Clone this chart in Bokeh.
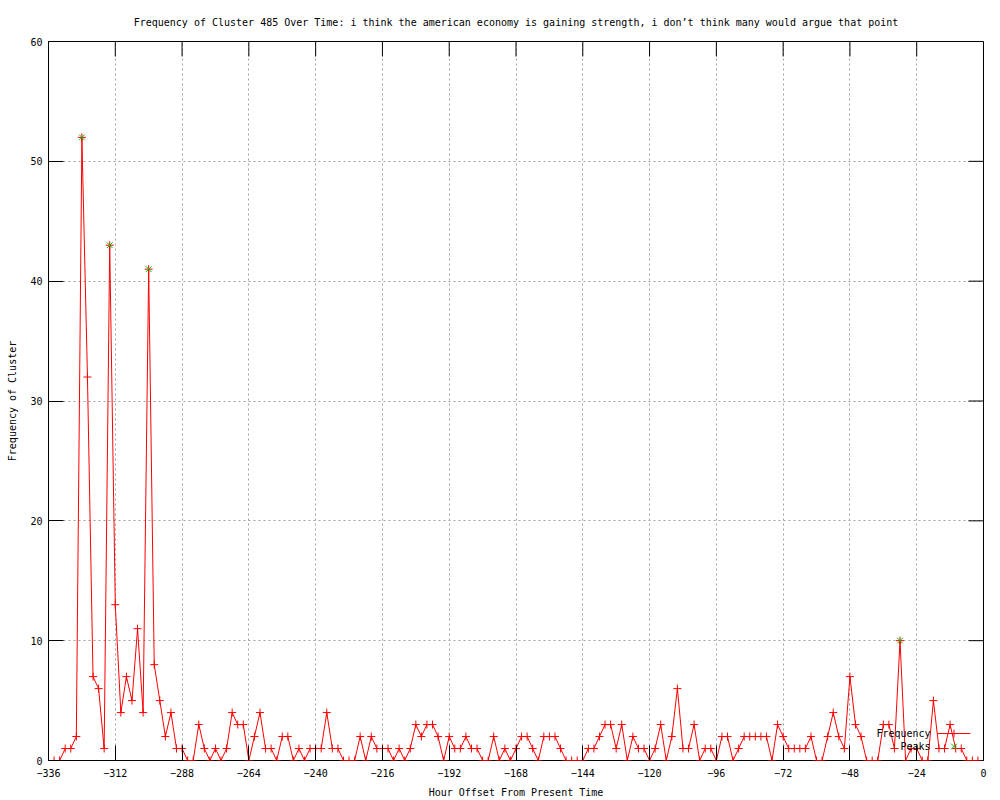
from bokeh.plotting import figure
from bokeh.models import FixedTicker, Range1d, Label, ColumnDataSource
from bokeh.embed import file_html
from bokeh.resources import INLINE

# ---------------- data ----------------
hours = list(range(-336, 0, 2))
frequency = [
    0, 0, 0, 1, 1, 2, 52, 32, 7, 6, 1, 43,      # -336 .. -314
    13, 4, 7, 5, 11, 4, 41, 8, 5, 2, 4, 1,      # -312 .. -290
    1, 0, 0, 3, 1, 0, 1, 0, 1, 4, 3, 3,         # -288 .. -266
    0, 2, 4, 1, 1, 0, 2, 2, 0, 1, 0, 1,         # -264 .. -242
    1, 1, 4, 1, 1, 0, 0, 0, 2, 0, 2, 1,         # -240 .. -218
    1, 1, 0, 1, 0, 1, 3, 2, 3, 3, 2, 0,         # -216 .. -194
    2, 1, 1, 2, 1, 1, 0, 0, 2, 0, 1, 0,         # -192 .. -170
    1, 2, 2, 1, 0, 2, 2, 2, 1, 0, 0, 0,         # -168 .. -146
    0, 1, 1, 2, 3, 3, 1, 3, 0, 2, 1, 1,         # -144 .. -122
    0, 1, 3, 0, 2, 6, 1, 1, 3, 0, 1, 1,         # -120 .. -98
    0, 2, 2, 0, 1, 2, 2, 2, 2, 2, 0, 3,         # -96 .. -74
    2, 1, 1, 1, 1, 2, 0, 0, 2, 4, 2, 1,         # -72 .. -50
    7, 3, 2, 0, 0, 0, 3, 3, 1, 10, 0, 1,        # -48 .. -26
    1, 0, 0, 5, 1, 1, 3, 1, 1, 0, 0, 0,         # -24 .. -2
]
peak_hours = [-324, -314, -300, -30]
peak_values = [52, 43, 41, 10]

x_ticks = list(range(-336, 1, 24))
y_ticks = list(range(0, 61, 10))

title_text = ("Frequency of Cluster 485 Over Time: i think the american economy is "
              "gaining strength, i don\u2019t think many would argue that point")
x_label = "Hour Offset From Present Time"
y_label = "Frequency of Cluster"

# ---------------- style ----------------
FONT = "DejaVu Sans Mono"
FS = "10px"
RED = "#ff0000"
GREEN = "#00c000"
TICK = 15
X0, X1, Y0, Y1 = -336, 0, 0, 60
FRAME_W, FRAME_H = 935, 720

p = figure(width=992, height=800, output_backend="svg", toolbar_location=None,
           x_range=Range1d(X0, X1), y_range=Range1d(Y0, Y1),
           min_border_left=48, min_border_right=9, min_border_top=40,
           min_border_bottom=40, x_axis_label=x_label, y_axis_label=y_label)

p.title.text = title_text
p.title.text_font = FONT
p.title.text_font_size = FS
p.title.text_font_style = "normal"
p.title.text_color = "black"
p.title.align = "center"
p.title.standoff = 28

p.background_fill_color = "white"
p.border_fill_color = "white"
p.outline_line_color = "black"
p.outline_line_width = 1

for ax in p.xaxis:
    ax.ticker = FixedTicker(ticks=x_ticks)
for ax in p.yaxis:
    ax.ticker = FixedTicker(ticks=y_ticks)

for ax in list(p.xaxis) + list(p.yaxis):
    ax.axis_line_color = None
    ax.major_tick_in = TICK
    ax.major_tick_out = 0
    ax.minor_tick_in = 0
    ax.minor_tick_out = 0
    ax.major_tick_line_color = "black"
    ax.major_label_text_font = FONT
    ax.major_label_text_font_size = FS
    ax.major_label_text_color = "black"
    ax.axis_label_text_font = FONT
    ax.axis_label_text_font_size = FS
    ax.axis_label_text_font_style = "normal"
    ax.axis_label_text_color = "black"

p.xaxis.major_label_standoff = 8
p.xaxis.axis_label_standoff = 7
p.yaxis.major_label_standoff = 6
p.yaxis.axis_label_standoff = 9

p.xgrid.ticker = FixedTicker(ticks=x_ticks)
p.ygrid.ticker = FixedTicker(ticks=y_ticks)
for g in (p.xgrid, p.ygrid):
    g.grid_line_color = "#a0a0a0"
    g.grid_line_dash = "2 3"
    g.grid_line_width = 1

# mirrored inward ticks on the top and right border (gnuplot style)
tick_dx = TICK * (X1 - X0) / FRAME_W
tick_dy = TICK * (Y1 - Y0) / FRAME_H
p.segment(x0=x_ticks, x1=x_ticks, y0=[Y1] * len(x_ticks), y1=[Y1 - tick_dy] * len(x_ticks),
          line_color="black", line_width=1)
p.segment(x0=[X1] * len(y_ticks), x1=[X1 - tick_dx] * len(y_ticks), y0=y_ticks, y1=y_ticks,
          line_color="black", line_width=1)

src = ColumnDataSource(dict(h=hours, f=frequency))
p.line("h", "f", source=src, line_color=RED, line_width=1)
p.scatter("h", "f", source=src, marker="cross", size=8, line_color=RED, line_width=1)

psrc = ColumnDataSource(dict(h=peak_hours, f=peak_values))
p.scatter("h", "f", source=psrc, marker="x", size=8, line_color=GREEN, line_width=1)

# ---------------- legend (gnuplot style: text left of sample) ----------------
LEG_TEXT_X = -19.0
LEG_S0, LEG_S1, LEG_SM = -16.5, -4.7, -10.6
LEG_Y1, LEG_Y2 = 2.25, 1.17

p.add_layout(Label(x=LEG_TEXT_X, y=LEG_Y1, text="Frequency", text_align="right",
                   text_baseline="middle", text_font=FONT, text_font_size=FS,
                   text_color="black"))
p.add_layout(Label(x=LEG_TEXT_X, y=LEG_Y2, text="Peaks", text_align="right",
                   text_baseline="middle", text_font=FONT, text_font_size=FS,
                   text_color="black"))
p.line(x=[LEG_S0, LEG_S1], y=[LEG_Y1, LEG_Y1], line_color=RED, line_width=1)
p.scatter(x=[LEG_SM], y=[LEG_Y1], marker="cross", size=8, line_color=RED, line_width=1)
p.scatter(x=[LEG_SM], y=[LEG_Y2], marker="x", size=8, line_color=GREEN, line_width=1)

open("out.html", "w").write(file_html(p, INLINE))
